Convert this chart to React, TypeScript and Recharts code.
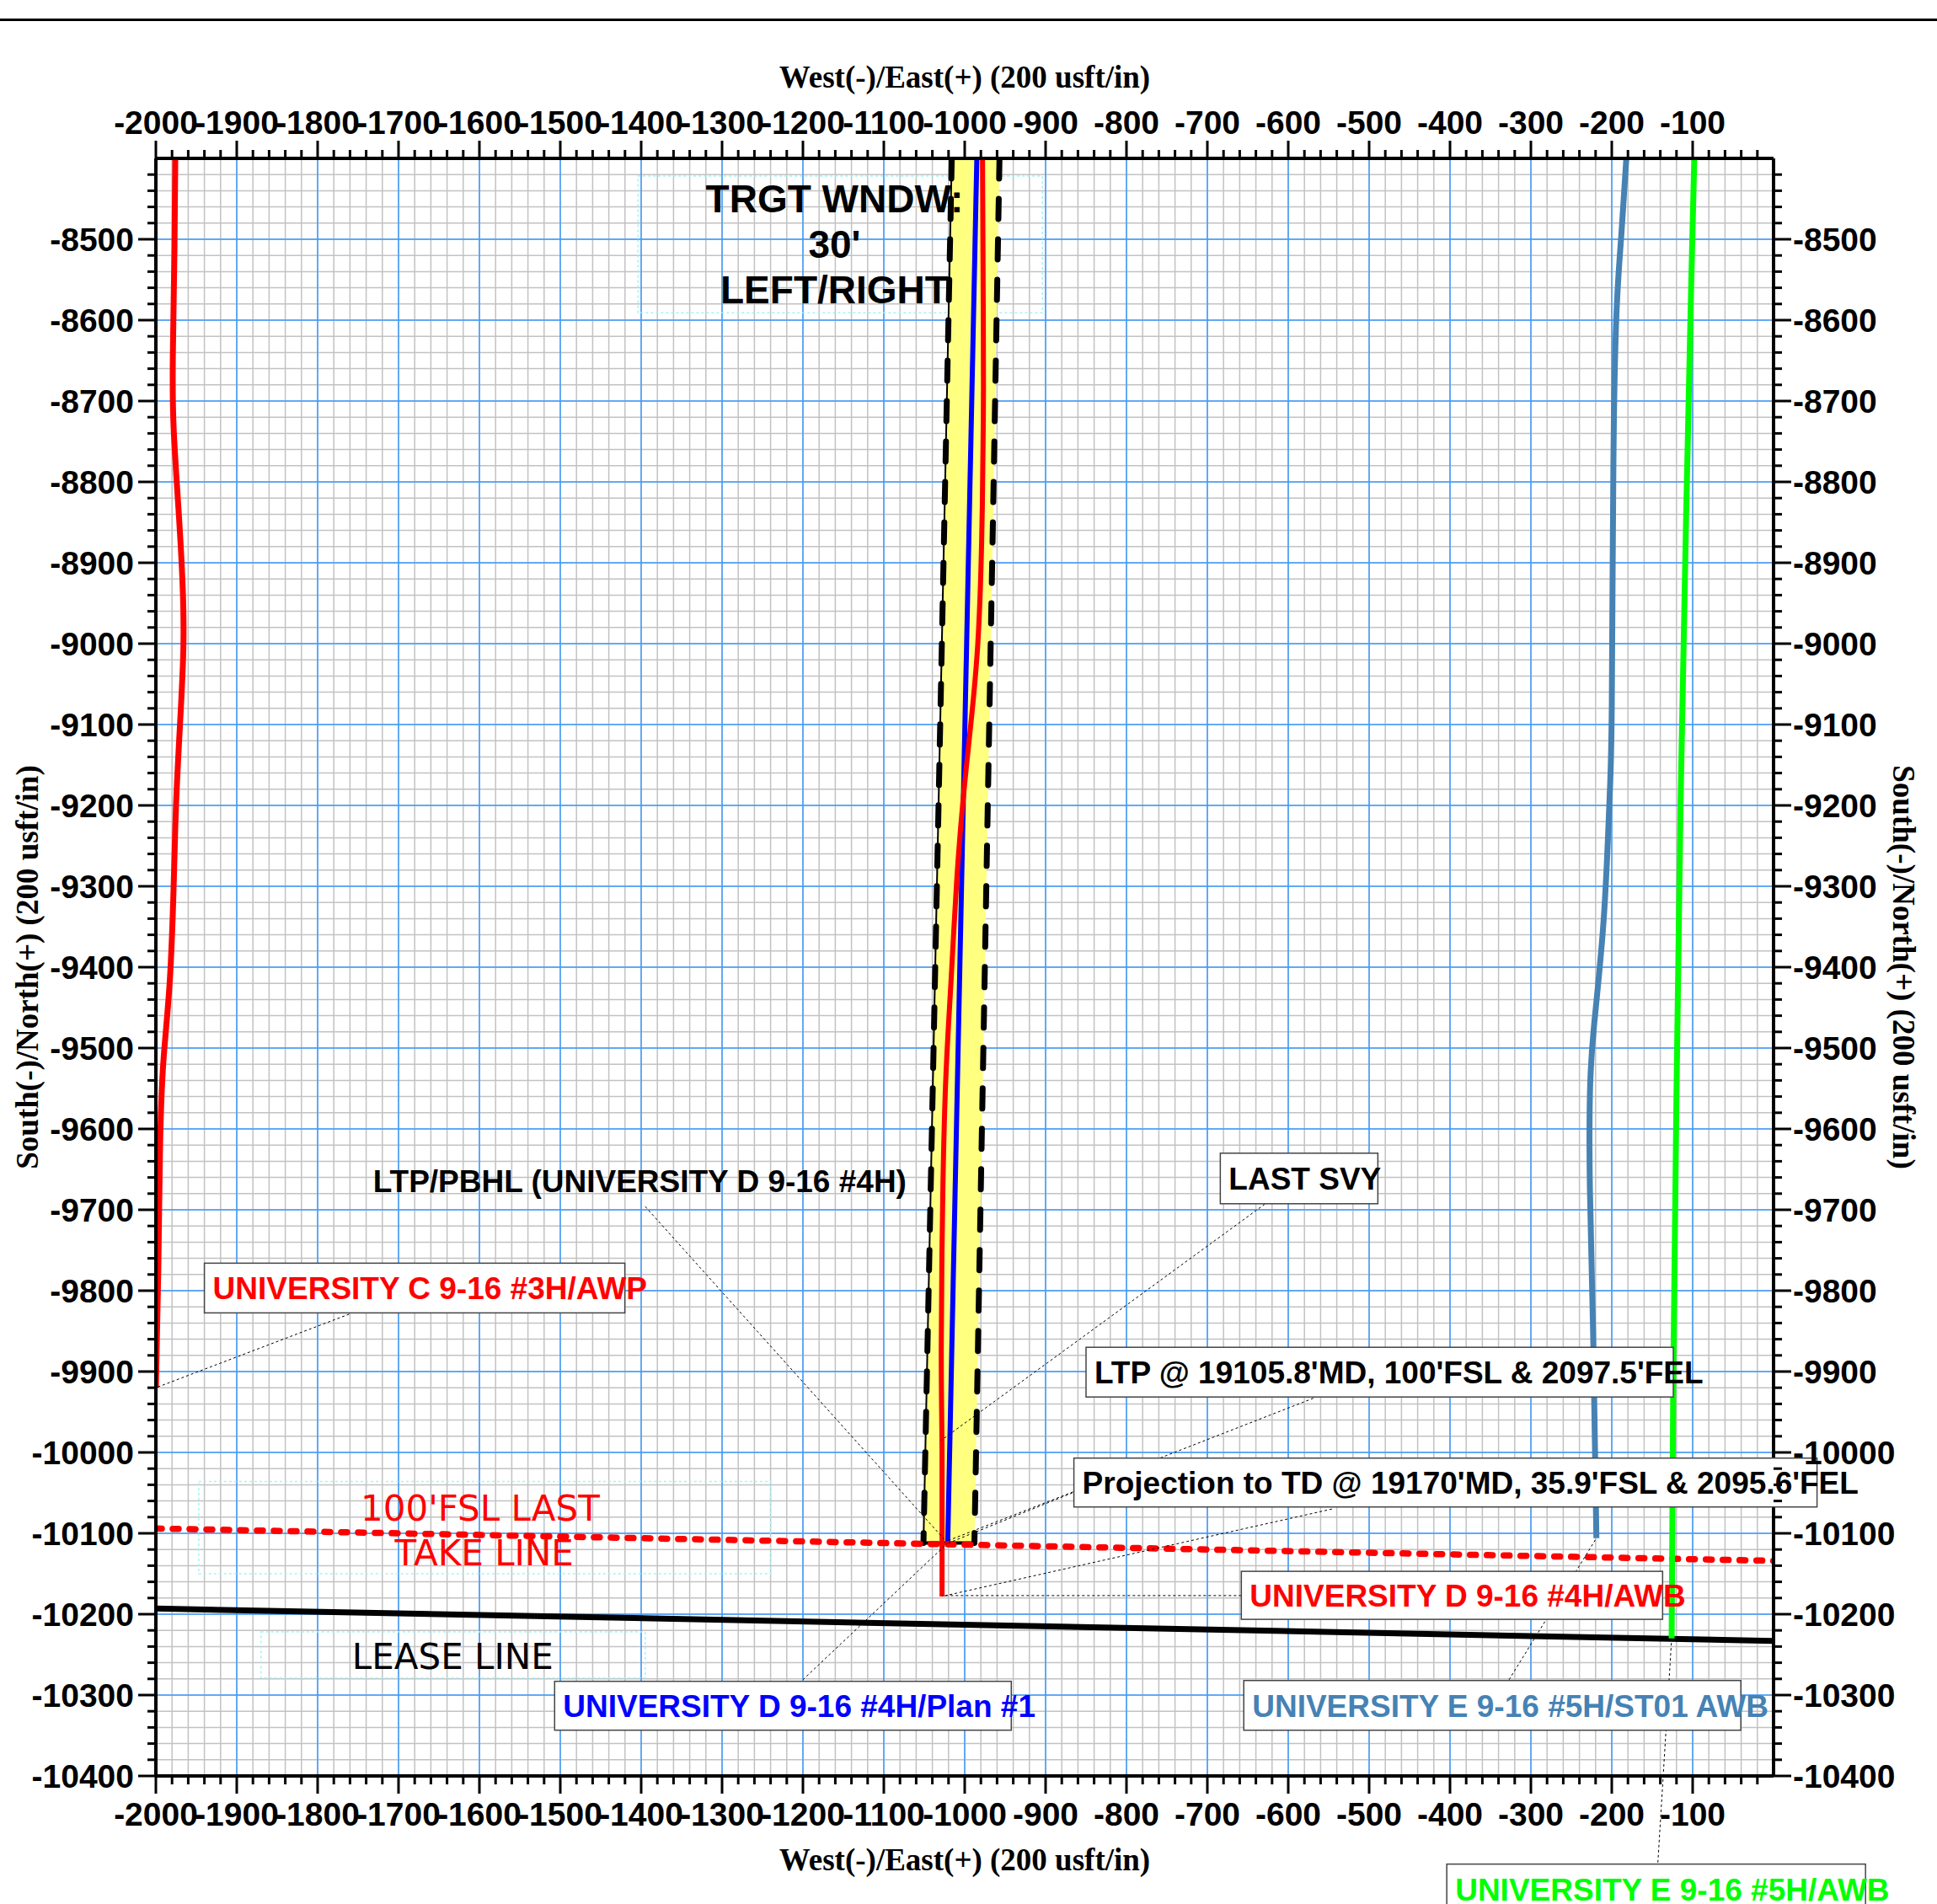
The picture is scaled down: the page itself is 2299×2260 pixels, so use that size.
import React from 'react'
import {
  ComposedChart,
  Line,
  XAxis,
  YAxis,
  CartesianGrid,
  ReferenceLine,
  ReferenceDot,
  ReferenceArea,
} from 'recharts'

const SANS = '"Liberation Sans", Arial, sans-serif'
const SERIF = '"Liberation Serif", "Times New Roman", serif'
const PLAIN = '"DejaVu Sans", sans-serif'

// axis ticks (usft)
const EW_LABELS = [-2000, -1900, -1800, -1700, -1600, -1500, -1400, -1300, -1200, -1100, -1000, -900, -800, -700, -600, -500, -400, -300, -200, -100]
const NS_LABELS = [-8500, -8600, -8700, -8800, -8900, -9000, -9100, -9200, -9300, -9400, -9500, -9600, -9700, -9800, -9900, -10000, -10100, -10200, -10300, -10400]
const EW_MINOR = Array.from({ length: 100 }, (_, i) => -2000 + i * 20)
const NS_MINOR = Array.from({ length: 100 }, (_, i) => -10400 + i * 20)

// well paths: x = West(-)/East(+), y = South(-)/North(+)
const univC3H = [
  { x: -1976, y: -8400 }, { x: -1977, y: -8511 }, { x: -1979, y: -8643 }, { x: -1978, y: -8734 },
  { x: -1972, y: -8834 }, { x: -1967, y: -8926 }, { x: -1966, y: -9006 }, { x: -1970, y: -9097 },
  { x: -1975, y: -9198 }, { x: -1978, y: -9299 }, { x: -1983, y: -9420 }, { x: -1991, y: -9521 },
  { x: -1995, y: -9632 }, { x: -1997, y: -9773 }, { x: -2000, y: -9920 },
]
const univD4HPlan = [{ x: -985, y: -8400 }, { x: -1021, y: -10112 }]
const univD4HActual = [
  { x: -978, y: -8400 }, { x: -977, y: -8600 }, { x: -977, y: -8725 }, { x: -979, y: -8871 },
  { x: -984, y: -9003 }, { x: -993, y: -9105 }, { x: -1002, y: -9193 }, { x: -1010, y: -9295 },
  { x: -1017, y: -9419 }, { x: -1023, y: -9529 }, { x: -1027, y: -9675 }, { x: -1029, y: -9871 },
  { x: -1028, y: -10000 }, { x: -1028, y: -10178 },
]
const univE5HST01 = [
  { x: -182, y: -8400 }, { x: -188, y: -8492 }, { x: -194, y: -8587 }, { x: -198, y: -8779 },
  { x: -200, y: -9078 }, { x: -203, y: -9198 }, { x: -210, y: -9341 }, { x: -222, y: -9473 },
  { x: -227, y: -9556 }, { x: -227, y: -9676 }, { x: -223, y: -9855 }, { x: -219, y: -10106 },
]
const univE5H = [
  { x: -98, y: -8400 }, { x: -102, y: -8564 }, { x: -108, y: -8839 }, { x: -115, y: -9198 },
  { x: -120, y: -9556 }, { x: -124, y: -9915 }, { x: -126, y: -10230 },
]
const takeLine = [{ x: -2000, y: -10094 }, { x: 0, y: -10134 }]
const leaseLine = [{ x: -2000, y: -10193 }, { x: 0, y: -10233 }]

// 30' left/right target window
const windowPoly = [
  { x: -1016, y: -8400 }, { x: -957, y: -8400 }, { x: -988, y: -10112 }, { x: -1051, y: -10112 },
]
const windowLeft = [windowPoly[0], windowPoly[3]]
const windowRight = [windowPoly[1], windowPoly[2]]
const windowBottom = [windowPoly[3], windowPoly[2]]

// callouts: text, anchor (top-left of box), leader [from, to]
const callouts = [
  { text: 'UNIVERSITY C 9-16 #3H/AWP', color: '#ff0000', at: [-1940, -9766], box: [499, 59], leader: [[-1761, -9829], [-2000, -9920]] },
  { text: 'LTP/PBHL (UNIVERSITY D 9-16 #4H)', color: '#000000', at: [-1742, -9633], box: null, leader: [[-1395, -9696], [-1023, -10110]] },
  { text: 'LAST SVY', color: '#000000', at: [-684, -9630], box: [187, 60], leader: [[-629, -9693], [-1029, -9985]] },
  { text: "LTP @ 19105.8'MD, 100'FSL & 2097.5'FEL", color: '#000000', at: [-850, -9870], box: [697, 59], leader: [[-569, -9933], [-1023, -10110]] },
  { text: "Projection to TD @ 19170'MD, 35.9'FSL & 2095.6'FEL", color: '#000000', at: [-865, -10007], box: [882, 58], leader: [[-546, -10070], [-1028, -10178]] },
  { text: 'UNIVERSITY D 9-16 #4H/AWB', color: '#ff0000', at: [-658, -10147], box: [500, 57], leader: [[-658, -10177], [-1028, -10177]] },
  { text: 'UNIVERSITY D 9-16 #4H/Plan #1', color: '#0000ff', at: [-1507, -10283], box: [542, 58], leader: [[-1200, -10281], [-1021, -10112]] },
  { text: 'UNIVERSITY E 9-16 #5H/ST01 AWB', color: '#4682b4', at: [-655, -10282], box: [590, 59], leader: [[-327, -10281], [-219, -10106]] },
  { text: 'UNIVERSITY E 9-16 #5H/AWB', color: '#00ff00', at: [-404, -10509], box: [497, 59], leader: [[-143, -10507], [-126, -10230]] },
]
const extraLeaders = [[[-867, -10050], [-1020, -10112]]]

const plainNotes = [
  { text: "100'FSL LAST", color: '#ff0000', at: [-1599, -10069] },
  { text: 'TAKE LINE', color: '#ff0000', at: [-1594, -10124] },
  { text: 'LEASE LINE', color: '#000000', at: [-1633, -10253] },
]
const noteFrames = [
  { x1: -1404, x2: -904, y1: -8591, y2: -8422 },
  { x1: -1947, x2: -1240, y1: -10150, y2: -10036 },
  { x1: -1870, x2: -1395, y1: -10279, y2: -10222 },
]
const windowNote = { lines: ['TRGT WNDW:', "30'", 'LEFT/RIGHT'], at: [-1161, -8506] }

const AX = { xAxisId: 'b', yAxisId: 'l' }

type Side = 'top' | 'bottom' | 'left' | 'right'

function tickRenderer(side: Side) {
  return (props: any) => {
    const { x, y, payload } = props
    const v = payload.value
    const major = v % 100 === 0
    const len = major ? 21 : 10
    const horiz = side === 'top' || side === 'bottom'
    const labelled = horiz ? EW_LABELS.includes(v) : NS_LABELS.includes(v)
    const txt = { fontFamily: SANS, fontWeight: 700, fontSize: 39, fill: '#000' }
    if (side === 'bottom')
      return (
        <g>
          <line x1={x} y1={y} x2={x} y2={y + len} stroke="#000" strokeWidth={3} />
          {labelled && <text x={x} y={y + 45} textAnchor="middle" dominantBaseline="central" {...txt}>{v}</text>}
        </g>
      )
    if (side === 'top')
      return (
        <g>
          <line x1={x} y1={y} x2={x} y2={y - len} stroke="#000" strokeWidth={3} />
          {labelled && <text x={x} y={y - 43} textAnchor="middle" dominantBaseline="central" {...txt}>{v}</text>}
        </g>
      )
    if (side === 'left')
      return (
        <g>
          <line x1={x} y1={y} x2={x - len} y2={y} stroke="#000" strokeWidth={3} />
          {labelled && <text x={x - 26} y={y} textAnchor="end" dominantBaseline="central" {...txt}>{v}</text>}
        </g>
      )
    return (
      <g>
        <line x1={x} y1={y} x2={x + len} y2={y} stroke="#000" strokeWidth={3} />
        {labelled && <text x={x + 23} y={y} textAnchor="start" dominantBaseline="central" {...txt}>{v}</text>}
      </g>
    )
  }
}

const TITLE_STYLE = { fontFamily: SERIF, fontWeight: 700, fontSize: 37, fill: '#000' }

function xTitle(dy: number) {
  return (props: any) => {
    const vb = props.viewBox
    return (
      <text x={vb.x + vb.width / 2} y={vb.y + dy} textAnchor="middle" dominantBaseline="central" {...TITLE_STYLE}>
        West(-)/East(+) (200 usft/in)
      </text>
    )
  }
}

function yTitle(dx: number, angle: number) {
  return (props: any) => {
    const vb = props.viewBox
    const cx = vb.x + dx
    const cy = vb.y + vb.height / 2
    return (
      <text x={cx} y={cy} transform={`rotate(${angle} ${cx} ${cy})`} textAnchor="middle" dominantBaseline="central" {...TITLE_STYLE}>
        South(-)/North(+) (200 usft/in)
      </text>
    )
  }
}

function WindowShape(props: any) {
  const { x, y, width, height } = props
  const xs = windowPoly.map(p => p.x)
  const ys = windowPoly.map(p => p.y)
  const x0 = Math.min(...xs), x1 = Math.max(...xs)
  const y0 = Math.min(...ys), y1 = Math.max(...ys)
  const pts = windowPoly
    .map(p => `${x + ((p.x - x0) / (x1 - x0)) * width},${y + ((y1 - p.y) / (y1 - y0)) * height}`)
    .join(' ')
  return <polygon points={pts} fill="#ffff80" stroke="none" />
}

function Callout({ cx, cy, c }: { cx: number; cy: number; c: any }) {
  const h = c.box ? c.box[1] : 59
  return (
    <g>
      {c.box && <rect x={cx} y={cy} width={c.box[0]} height={h} fill="#fff" stroke="#444" strokeWidth={1.5} />}
      <text x={cx + 10} y={cy + h / 2 + 1} dominantBaseline="central" fontFamily={SANS} fontWeight={700} fontSize={37} fill={c.color}>
        {c.text}
      </text>
    </g>
  )
}

export default function App() {
  return (
    <div style={{ position: 'absolute', left: 0, top: 0, width: 2299, height: 2260, background: '#fff', overflow: 'hidden' }}>
      <div style={{ position: 'absolute', left: 0, top: 22, width: 2299, height: 3, background: '#000' }} />
      <ComposedChart width={2299} height={2260} margin={{ top: 0, right: 0, bottom: 0, left: 0 }}>
        <XAxis
          xAxisId="b" dataKey="x" type="number" orientation="bottom" domain={[-2000, 0]} allowDataOverflow
          ticks={EW_MINOR} interval={0} height={152} tickSize={0} tickMargin={0} tickLine={false}
          axisLine={{ stroke: '#000', strokeWidth: 4 }} tick={tickRenderer('bottom')}
          label={{ content: xTitle(99) }}
        />
        <XAxis
          xAxisId="t" dataKey="x" type="number" orientation="top" domain={[-2000, 0]} allowDataOverflow
          ticks={EW_MINOR} interval={0} height={188} tickSize={0} tickMargin={0} tickLine={false}
          axisLine={{ stroke: '#000', strokeWidth: 4 }} tick={tickRenderer('top')}
          label={{ content: xTitle(91) }}
        />
        <YAxis
          yAxisId="l" type="number" orientation="left" domain={[-10400, -8400]} allowDataOverflow
          ticks={NS_MINOR} interval={0} width={185} tickSize={0} tickMargin={0} tickLine={false}
          axisLine={{ stroke: '#000', strokeWidth: 4 }} tick={tickRenderer('left')}
          label={{ content: yTitle(32, -90) }}
        />
        <YAxis
          yAxisId="r" type="number" orientation="right" domain={[-10400, -8400]} allowDataOverflow
          ticks={NS_MINOR} interval={0} width={194} tickSize={0} tickMargin={0} tickLine={false}
          axisLine={{ stroke: '#000', strokeWidth: 4 }} tick={tickRenderer('right')}
          label={{ content: yTitle(154, 90) }}
        />
        <XAxis xAxisId="g" dataKey="x" type="number" orientation="top" domain={[-2000, 0]} allowDataOverflow ticks={EW_LABELS} interval={0} height={0} hide />
        <YAxis yAxisId="g" type="number" orientation="right" domain={[-10400, -8400]} allowDataOverflow ticks={NS_LABELS} interval={0} width={0} hide />

        <CartesianGrid xAxisId="b" yAxisId="l" stroke="#c2c2c2" strokeWidth={1.5} />
        <CartesianGrid xAxisId="g" yAxisId="g" stroke="#3d9bff" strokeWidth={1.5} />

        {noteFrames.map((f, i) => (
          <ReferenceArea key={`nf${i}`} {...AX} x1={f.x1} x2={f.x2} y1={f.y1} y2={f.y2} fill="none" stroke="#a6f2f6" strokeWidth={1.5} strokeDasharray="3 3" ifOverflow="visible" />
        ))}

        <ReferenceArea
          {...AX} x1={-1051} x2={-957} y1={-10112} y2={-8400} ifOverflow="visible"
          shape={(p: any) => <WindowShape {...p} />}
        />

        <Line {...AX} data={leaseLine} dataKey="y" stroke="#000" strokeWidth={7} dot={false} isAnimationActive={false} type="linear" />
        <Line {...AX} data={univC3H} dataKey="y" stroke="#ff0000" strokeWidth={7} dot={false} isAnimationActive={false} type="natural" />
        <Line {...AX} data={univE5HST01} dataKey="y" stroke="#4682b4" strokeWidth={7} dot={false} isAnimationActive={false} type="natural" />
        <Line {...AX} data={windowLeft} dataKey="y" stroke="#000" strokeWidth={2} dot={false} isAnimationActive={false} type="linear" />
        <Line {...AX} data={windowBottom} dataKey="y" stroke="#000" strokeWidth={4} dot={false} isAnimationActive={false} type="linear" />
        <Line {...AX} data={windowLeft} dataKey="y" stroke="#000" strokeWidth={7} strokeDasharray="24 24" strokeLinecap="round" dot={false} isAnimationActive={false} type="linear" />
        <Line {...AX} data={windowRight} dataKey="y" stroke="#000" strokeWidth={7} strokeDasharray="24 24" strokeLinecap="round" dot={false} isAnimationActive={false} type="linear" />
        <Line {...AX} data={univD4HPlan} dataKey="y" stroke="#0000ff" strokeWidth={6} dot={false} isAnimationActive={false} type="linear" />
        <Line {...AX} data={univD4HActual} dataKey="y" stroke="#ff0000" strokeWidth={6} dot={false} isAnimationActive={false} type="natural" />
        <Line {...AX} data={takeLine} dataKey="y" stroke="#ff0000" strokeWidth={7.5} strokeDasharray="7 13" strokeLinecap="round" dot={false} isAnimationActive={false} type="linear" />

        {[...callouts.map(c => c.leader), ...extraLeaders].map((seg, i) => (
          <ReferenceLine
            key={`ld${i}`} {...AX}
            segment={[{ x: seg[0][0], y: seg[0][1] }, { x: seg[1][0], y: seg[1][1] }]}
            stroke="#000" strokeWidth={1} strokeDasharray="3 3" ifOverflow="visible"
          />
        ))}

        {callouts.map((c, i) => (
          <ReferenceDot
            key={`co${i}`} {...AX} x={c.at[0]} y={c.at[1]} r={1} ifOverflow="visible"
            shape={(p: any) => <Callout cx={p.cx} cy={p.cy} c={c} />}
          />
        ))}

        {plainNotes.map((n, i) => (
          <ReferenceDot
            key={`pn${i}`} {...AX} x={n.at[0]} y={n.at[1]} r={1} ifOverflow="visible"
            shape={(p: any) => (
              <text x={p.cx} y={p.cy} textAnchor="middle" dominantBaseline="central" fontFamily={PLAIN} fontSize={42} fill={n.color}>
                {n.text}
              </text>
            )}
          />
        ))}

        <ReferenceDot
          {...AX} x={windowNote.at[0]} y={windowNote.at[1]} r={1} ifOverflow="visible"
          shape={(p: any) => (
            <g>
              {windowNote.lines.map((t, i) => (
                <text key={t} x={p.cx} y={p.cy + (i - 1) * 54} textAnchor="middle" dominantBaseline="central" fontFamily={SANS} fontWeight={700} fontSize={46} fill="#000">
                  {t}
                </text>
              ))}
            </g>
          )}
        />

        <Line {...AX} data={univE5H} dataKey="y" stroke="#00ff00" strokeWidth={7} dot={false} isAnimationActive={false} type="linear" />
      </ComposedChart>
    </div>
  )
}
